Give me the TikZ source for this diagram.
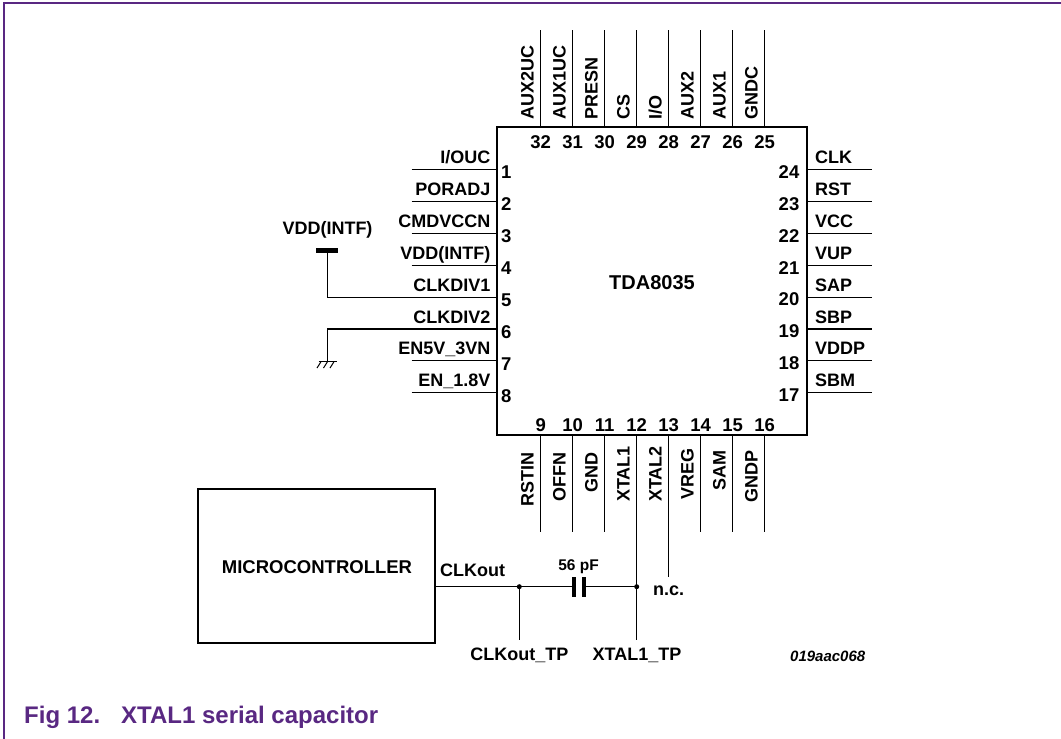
\documentclass[tikz,border=0pt]{standalone}
\usepackage{fontspec}
\setmainfont{Liberation Sans}
\definecolor{nxp}{RGB}{89,40,130}
\begin{document}
\begin{tikzpicture}[x=1pt,y=-1pt,
  lbl/.style={font=\fontsize{18}{20}\selectfont\bfseries, inner sep=0pt},
  num/.style={font=\fontsize{18.5}{20}\selectfont\bfseries, inner sep=0pt},
  pin/.style={line width=1.1pt},
  bigbox/.style={draw, line width=2.8pt, inner sep=0pt},
  plate/.style={fill, minimum width=4pt, minimum height=20pt, inner sep=0pt},
  dot/.style={circle, fill, minimum size=5pt, inner sep=0pt}]
\useasboundingbox (0,0) rectangle (1061,739);
% frame
\draw[nxp, line width=1.5pt] (4,739) -- (4,3) -- (1061,3);
% IC
\node[bigbox, minimum width=310pt, minimum height=308pt] (ic) at (652,281) {};
\node[font=\fontsize{20}{22}\selectfont\bfseries, inner sep=0pt] (tda) at (652,283) {TDA8035};
% top pins
\foreach \lab [count=\i from 0] in {AUX2UC,AUX1UC,PRESN,CS,I/O,AUX2,AUX1,GNDC}{
  \pgfmathsetmacro\px{540.7+32*\i}
  \pgfmathtruncatemacro\pn{32-\i}
  \coordinate (t\pn) at (\px,30);
  \draw[pin] (t\pn) -- (t\pn |- ic.north);
  \node[lbl, rotate=90, anchor=base west] (tl\pn) at (\px-7,120) {\lab};
  \node[num] (tn\pn) at (\px,142) {\pn};
}
% bottom pins
\foreach \lab/\tp [count=\i from 0] in {RSTIN/452,OFFN/452,GND/452,XTAL1/446,XTAL2/446,VREG/448,SAM/450,GNDP/450}{
  \pgfmathsetmacro\px{540.7+32*\i}
  \pgfmathtruncatemacro\pn{9+\i}
  \coordinate (b\pn) at (\px,532);
  \node[lbl, rotate=90, anchor=base east] (bl\pn) at (\px-7,\tp) {\lab};
  \node[num] (bn\pn) at (\px,425) {\pn};
}
\foreach \pn in {9,10,11,14,15,16}{
  \draw[pin] (b\pn |- ic.south) -- (b\pn);
}
% left pins
\foreach \lab [count=\i from 1] in {I/OUC,PORADJ,CMDVCCN,VDD(INTF),CLKDIV1,CLKDIV2,EN5V\_3VN,EN\_1.8V}{
  \pgfmathsetmacro\py{169.5+31.9*(\i-1)}
  \coordinate (l\i) at (411.7,\py);
  \draw[pin] (l\i) -- (l\i -| ic.west);
  \node[lbl, anchor=base east] (ll\i) at (490.5,\py-6) {\lab};
  \node[num, anchor=west] (ln\i) at (501,\py+3) {\i};
}
% right pins
\foreach \lab [count=\i from 1] in {CLK,RST,VCC,VUP,SAP,SBP,VDDP,SBM}{
  \pgfmathsetmacro\py{169.5+31.9*(\i-1)}
  \pgfmathtruncatemacro\pn{25-\i}
  \coordinate (r\pn) at (871.7,\py);
  \draw[pin] (r\pn -| ic.east) -- (r\pn);
  \node[lbl, anchor=base west] (rl\pn) at (815,\py-6) {\lab};
  \node[num, anchor=east] (rn\pn) at (799.5,\py+2.5) {\pn};
}
% VDD(INTF) supply on pin 5
\node[fill, minimum width=22pt, minimum height=5pt, inner sep=0pt] (vdd) at (327.3,250.5) {};
\node[lbl, anchor=base] (vddl) at (327.5,234) {VDD(INTF)};
\draw[pin] (vdd.center) |- (l5);
% ground on pin 6
\coordinate (gnd) at (327.3,361.7);
\draw[pin] (gnd) |- (l6);
\draw[pin] (318.5,361.7) -- (336.5,361.7);
\foreach \gx in {321,327.5,334}{
  \draw[line width=1pt] (\gx,361.7) -- (\gx-4,368);
}
% microcontroller
\node[bigbox, minimum width=237pt, minimum height=154pt] (mc) at (316.5,566) {};
\node[font=\fontsize{18.5}{20}\selectfont\bfseries, inner sep=0pt] (mct) at (317,567) {MICROCONTROLLER};
% capacitor and nets
\coordinate (j1) at (519.3,586.7);
\coordinate (j2) at (b12 |- j1);
\node[plate] (c1) at (574,586.7) {};
\node[plate] (c2) at (583.5,586.7) {};
\draw[pin] (mc.east |- j1) -- (c1.west);
\draw[pin] (c2.east) -- (j2);
\coordinate (tp1) at (519.3,640);
\coordinate (tp2) at (b12 |- tp1);
\draw[pin] (j1) -- (tp1);
\draw[pin] (b12 |- ic.south) -- (tp2);
\coordinate (nce) at (668.7,577);
\draw[pin] (b13 |- ic.south) -- (nce);
\node[dot] (d1) at (j1) {};
\node[dot] (d2) at (j2) {};
\node[lbl, anchor=base west] (clkout) at (440,576) {CLKout};
\node[font=\fontsize{15.5}{17}\selectfont\bfseries, inner sep=0pt, anchor=base] (capv) at (578.5,570) {56 pF};
\node[lbl, anchor=base west] (nc) at (653,595) {n.c.};
\node[lbl, anchor=base] (clktp) at (519.3,660) {CLKout\_TP};
\node[lbl, anchor=base] (xtp) at (637,660) {XTAL1\_TP};
\node[font=\fontsize{15}{17}\selectfont\bfseries\itshape, inner sep=0pt, anchor=base west] (code) at (790,661.5) {019aac068};
% caption
\node[text=nxp, font=\fontsize{24}{26}\selectfont\bfseries, inner sep=0pt, anchor=base west] (fig) at (24,723) {Fig 12.};
\node[text=nxp, font=\fontsize{24}{26}\selectfont\bfseries, inner sep=0pt, anchor=base west] (cap) at (121,723) {XTAL1 serial capacitor};
\end{tikzpicture}
\end{document}
